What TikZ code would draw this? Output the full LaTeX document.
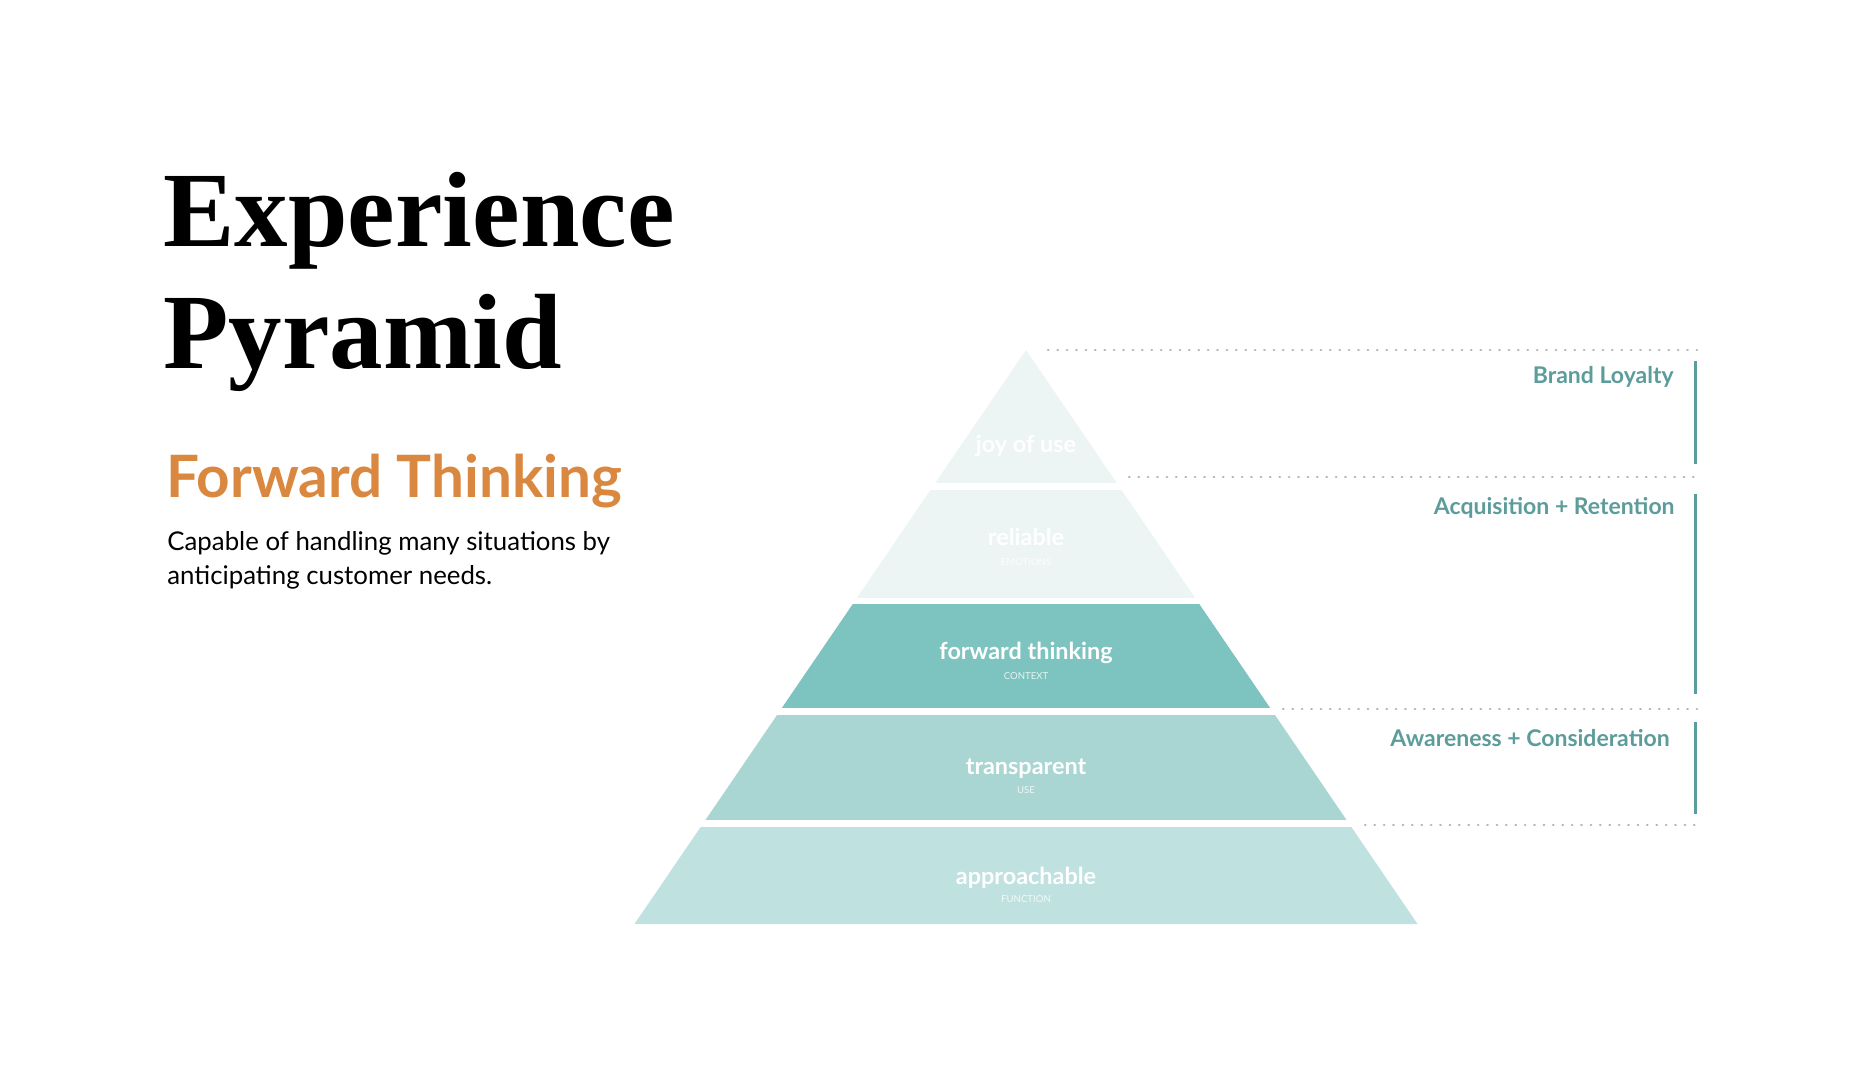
\documentclass[tikz,border=0pt]{standalone}
\usepackage{fontspec}
\setmainfont{Lato}
\newfontfamily\titlefont{Liberation Serif}
\usetikzlibrary{positioning, calc}

\definecolor{layerpale}{HTML}{EDF5F4}
\definecolor{layerdeep}{HTML}{7DC3BF}
\definecolor{layermid}{HTML}{A9D6D3}
\definecolor{layerlow}{HTML}{BFE1DF}
\definecolor{tealtext}{HTML}{5C9C9A}
\definecolor{accent}{HTML}{DA8840}
\definecolor{guide}{HTML}{B4B4B4}

\begin{document}
\begin{tikzpicture}[x=0.5pt, y=-0.5pt,
    title/.style={font=\titlefont\bfseries\fontsize{53.5}{60}\selectfont, inner sep=0pt, anchor=base west},
    subhead/.style={font=\bfseries\fontsize{29.2}{34}\selectfont, text=accent, inner sep=0pt, anchor=base west},
    body/.style={font=\fontsize{12.9}{17}\selectfont, inner sep=0pt, anchor=base west},
    layername/.style={font=\bfseries\fontsize{11.7}{14}\selectfont, text=white, inner sep=0pt, anchor=base},
    layertag/.style={font=\fontsize{4.8}{6}\selectfont, text=white, text opacity=0.8, inner sep=0pt, anchor=base},
    stage/.style={font=\bfseries\fontsize{11.5}{14}\selectfont, text=tealtext, inner sep=0pt, anchor=base east},
    guideline/.style={guide, line width=1.1pt, line cap=round, dash pattern=on 0.3pt off 4.4pt},
    stagebar/.style={tealtext, line width=1.6pt}
  ]
    \fill[white] (0,0) rectangle (1850,1080);

    % left column
    \node[title] (head1) at (163,247) {Experience};
    \node[title] (head2) at (163,368) {Pyramid};
    \node[subhead] (topic) at (166,497) {Forward Thinking};
    \node[body] (desc1) at (167,550) {Capable of handling many situations by};
    \node[body] (desc2) at (167,584) {anticipating customer needs.};

    % pyramid
    \coordinate (apex) at (1026,350);
    \coordinate (baseL) at (634.5,924);
    \coordinate (baseR) at (1417.5,924);
    \begin{scope}
      \clip (apex) -- (baseL) -- (baseR) -- cycle;
      \foreach \top/\bot/\col in {340/483/layerpale, 489.5/598/layerpale, 604/708/layerdeep, 715/820/layermid, 827/930/layerlow}
        \fill[\col] (600,\top) rectangle (1450,\bot);
    \end{scope}

    \node[layername] (joy) at (1026,452.5) {joy of use};
    \node[layername] (rel) at (1026,545) {reliable};
    \node[layertag] (relTag) at ([yshift=-10pt]rel.base) {EMOTIONS};
    \node[layername] (fwd) at (1026,659) {forward thinking};
    \node[layertag] (fwdTag) at ([yshift=-10pt]fwd.base) {CONTEXT};
    \node[layername] (trans) at (1026,774) {transparent};
    \node[layertag] (transTag) at ([yshift=-9.5pt]trans.base) {USE};
    \node[layername] (appr) at (1026,884) {approachable};
    \node[layertag] (apprTag) at ([yshift=-9pt]appr.base) {FUNCTION};

    % guides and stages
    \draw[guideline] (1048,350) -- (1697,350);
    \draw[guideline] (1129,476.6) -- (1697,476.6);
    \draw[guideline] (1283,709) -- (1697,709);
    \draw[guideline] (1365,824.7) -- (1697,824.7);

    \node[stage] (loyal) at (1674,383) {Brand Loyalty};
    \node[stage] (acq) at (1675,514) {Acquisition + Retention};
    \node[stage] (aware) at (1670,746) {Awareness + Consideration};

    \draw[stagebar] (1695.5,361) -- (1695.5,464);
    \draw[stagebar] (1695.5,494) -- (1695.5,694);
    \draw[stagebar] (1695.5,722) -- (1695.5,814);
  \end{tikzpicture}
\end{document}
